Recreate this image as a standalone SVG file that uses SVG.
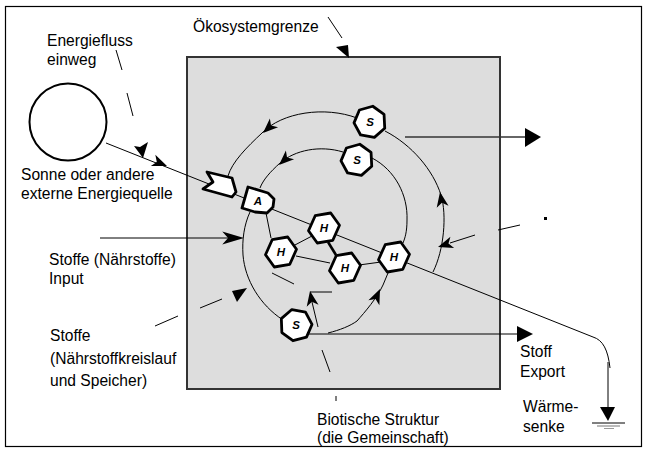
<svg xmlns="http://www.w3.org/2000/svg" width="647" height="452" viewBox="0 0 647 452">
<style>
.lbl{font-family:"Liberation Sans",Arial,sans-serif;font-size:15.6px;fill:#000}
.nl{font-family:"Liberation Sans",Arial,sans-serif;font-size:11.5px;font-weight:bold;font-style:italic;fill:#000;text-anchor:middle}
.ln{fill:none;stroke:#000;stroke-width:1}
.node{fill:#fff;stroke:#000;stroke-width:2.8;stroke-linejoin:round}
.ah{fill:#000;stroke:none}
</style>
<defs>
<polygon id="hex" points="15.5,-2.7 6.7,-15 -8.8,-12.3 -15.5,2.7 -6.7,15 8.8,12.3"/>
<polygon id="hep" points="0,-16 12.5,-10 15.6,3.6 7,14.4 -7,14.4 -15.6,3.6 -12.5,-10"/>
<path id="barb" d="M0,0 L-15,-6 L-11,0 L-15,6 Z"/>
</defs>
<rect x="5.5" y="6.5" width="636" height="440" fill="#fff" stroke="#000" stroke-width="1.2"/>
<g id="ecosystem">
<rect x="187" y="57" width="313" height="332" fill="#dddddd" stroke="#333" stroke-width="2"/>
</g>
<g id="labels">
<text class="lbl" x="193" y="32">Ökosystemgrenze</text>
<text class="lbl" x="47" y="46">Energiefluss</text>
<text class="lbl" x="47" y="65">einweg</text>
<text class="lbl" x="21" y="180">Sonne oder andere</text>
<text class="lbl" x="21" y="199">externe Energiequelle</text>
<text class="lbl" x="49" y="265">Stoffe (Nährstoffe)</text>
<text class="lbl" x="49" y="284">Input</text>
<text class="lbl" x="50" y="341">Stoffe</text>
<text class="lbl" x="50" y="364">(Nährstoffkreislauf</text>
<text class="lbl" x="50" y="386">und Speicher)</text>
<text class="lbl" x="520" y="357">Stoff</text>
<text class="lbl" x="520" y="377">Export</text>
<text class="lbl" x="523" y="412">Wärme-</text>
<text class="lbl" x="523" y="432">senke</text>
<text class="lbl" x="317" y="425">Biotische Struktur</text>
<text class="lbl" x="317" y="443">(die Gemeinschaft)</text>
</g>
<g id="connectors">
<path class="ln" d="M106,143 L593,337 C603,340 608,350 610,368"/>
<line class="ln" x1="608" y1="362" x2="608" y2="410"/>
<polygon class="ah" points="600,407 615,407 608,421"/>
<line x1="592" y1="423" x2="625" y2="423" stroke="#000" stroke-width="1"/>
<line x1="597" y1="426" x2="620" y2="426" stroke="#777" stroke-width="1"/>
<line x1="604" y1="428.5" x2="614" y2="428.5" stroke="#999" stroke-width="1"/>
<use href="#barb" class="ah" transform="translate(167,166) rotate(22)"/>
<line class="ln" x1="116" y1="50" x2="122" y2="70"/>
<line class="ln" x1="127" y1="93" x2="133" y2="116"/>
<path class="ah" d="M143,158 L134,146 L140,147 L148,142 Z"/>
<line class="ln" x1="328" y1="17" x2="342" y2="38"/>
<polygon class="ah" points="336,47 348,45 349,58"/>
<path class="ln" d="M357,118 C325,106 282,112 262,133 C247,147 232,162 228,176"/>
<use href="#barb" class="ah" transform="translate(263,133) rotate(137)"/>
<path class="ln" d="M385,131 C412,145 433,170 441,195 C447,215 444,250 433,272"/>
<use href="#barb" class="ah" transform="translate(440,192) rotate(-100)"/>
<path class="ln" d="M343,152 C320,145 295,150 280,163 C270,172 263,180 260,188"/>
<use href="#barb" class="ah" transform="translate(279,165) rotate(137)"/>
<path class="ln" d="M372,158 C395,170 408,195 407,220 C407,232 405,238 403,243"/>
<path class="ln" d="M250,212 C244,225 242,240 243,255 C245,280 260,305 283,320"/>
<path class="ln" d="M328,333 C340,330 350,326 357,321 C365,312 377,298 383,285 L388,273"/>
<use href="#barb" class="ah" transform="translate(380,289) rotate(-66)"/>
<line class="ln" x1="265" y1="208" x2="271" y2="238"/>
<line class="ln" x1="293" y1="246" x2="312" y2="236"/>
<line x1="328" y1="242" x2="336" y2="255" stroke="#000" stroke-width="2.6"/>
<line class="ln" x1="296" y1="256" x2="330" y2="263"/>
<line class="ln" x1="359" y1="265" x2="381" y2="262"/>
<line class="ln" x1="100" y1="238" x2="232" y2="238"/>
<use href="#barb" class="ah" transform="translate(244,238) scale(1.45,1.1)"/>
<line class="ln" x1="155" y1="326" x2="178" y2="316"/>
<line class="ln" x1="200" y1="308" x2="222" y2="299"/>
<polygon class="ah" points="232,291 247,288 237,302"/>
<line class="ln" x1="520" y1="225" x2="498" y2="230"/>
<line class="ln" x1="475" y1="235" x2="450" y2="243"/>
<use href="#barb" class="ah" transform="translate(438,247) rotate(162)"/>
<rect x="544" y="217" width="3" height="3" fill="#000"/>
<line class="ln" x1="272" y1="273" x2="294" y2="284"/>
<line class="ln" x1="310" y1="292" x2="332" y2="292"/>
<line class="ln" x1="318" y1="327" x2="312" y2="302"/>
<use href="#barb" class="ah" transform="translate(310,291) rotate(-100)"/>
<line class="ln" x1="322" y1="350" x2="330" y2="372"/>
<line class="ln" x1="336" y1="396" x2="336" y2="401"/>
<line x1="405" y1="137" x2="527" y2="137" stroke="#333" stroke-width="1.3"/>
<polygon class="ah" points="525,128 541,137 525,147"/>
<line class="ln" x1="306" y1="334" x2="519" y2="334"/>
<polygon class="ah" points="517,326 533,334 517,342"/>
</g>
<g id="sun"><circle cx="68" cy="122" r="38.5" fill="#fff" stroke="#000" stroke-width="2"/></g>
<g id="collector"><polygon class="node" points="207,172 232,178 236,192 232,197 203,189 213,182"/></g>
<g id="nodeA"><polygon class="node" points="248,187 268,193 274,199 273,207 267,213 255,212 242,208"/><text class="nl" x="258" y="205">A</text></g>
<g id="nodeS1"><use href="#hep" class="node" transform="translate(370,122) rotate(10)"/><text class="nl" x="370" y="126">S</text></g>
<g id="nodeS2"><use href="#hep" class="node" transform="translate(357,160) rotate(10)"/><text class="nl" x="357" y="164">S</text></g>
<g id="nodeS3"><use href="#hep" class="node" transform="translate(296,325) rotate(-15)"/><text class="nl" x="296" y="329">S</text></g>
<g id="nodeH1"><use href="#hex" class="node" transform="translate(324,228)"/><text class="nl" x="324" y="232">H</text></g>
<g id="nodeH2"><use href="#hex" class="node" transform="translate(281,252)"/><text class="nl" x="281" y="256">H</text></g>
<g id="nodeH3"><use href="#hex" class="node" transform="translate(345,268)"/><text class="nl" x="345" y="272">H</text></g>
<g id="nodeH4"><use href="#hex" class="node" transform="translate(394,257)"/><text class="nl" x="394" y="261">H</text></g>
</svg>
